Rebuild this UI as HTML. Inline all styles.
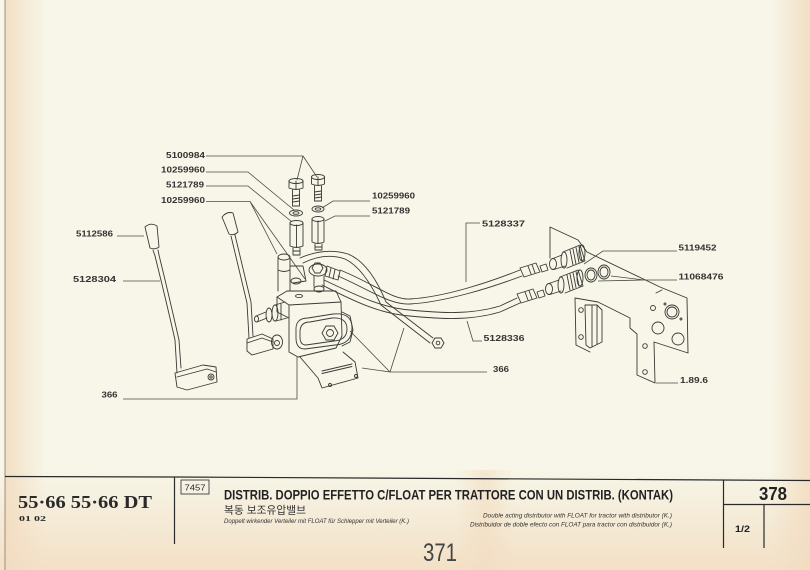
<!DOCTYPE html>
<html>
<head>
<meta charset="utf-8">
<style>
html,body{margin:0;padding:0;background:#f7f6e8;}
svg{display:block;}
</style>
</head>
<body>
<svg width="810" height="570" viewBox="0 0 810 570" xmlns="http://www.w3.org/2000/svg">
<defs>
<linearGradient id="gl" x1="0" y1="0" x2="1" y2="0">
<stop offset="0" stop-color="#f2dcc0" stop-opacity="0.9"/>
<stop offset="1" stop-color="#f2dcc0" stop-opacity="0"/>
</linearGradient>
<linearGradient id="gr" x1="0" y1="0" x2="1" y2="0">
<stop offset="0" stop-color="#f2dcc0" stop-opacity="0"/>
<stop offset="1" stop-color="#f2dcc0" stop-opacity="0.9"/>
</linearGradient>
<linearGradient id="gb" x1="0" y1="0" x2="0" y2="1">
<stop offset="0" stop-color="#f2dcc0" stop-opacity="0"/>
<stop offset="1" stop-color="#f2dcc0" stop-opacity="0.85"/>
</linearGradient>
<linearGradient id="gv" x1="0" y1="0" x2="1" y2="0">
<stop offset="0" stop-color="#f2dcc0" stop-opacity="0"/>
<stop offset="0.5" stop-color="#f2dcc0" stop-opacity="0.6"/>
<stop offset="1" stop-color="#f2dcc0" stop-opacity="0"/>
</linearGradient>
</defs>

<!-- paper -->
<rect x="0" y="0" width="810" height="570" fill="#f7f6e8"/>
<rect x="5" y="0" width="40" height="570" fill="url(#gl)"/>
<rect x="770" y="0" width="40" height="570" fill="url(#gr)"/>
<rect x="0" y="470" width="810" height="100" fill="url(#gb)"/>
<rect x="455" y="470" width="60" height="100" fill="url(#gv)"/>
<line x1="5" y1="0" x2="5" y2="570" stroke="#a08c78" stroke-width="1"/>

<!-- ============ DRAWING ============ -->
<g fill="none" stroke="#3a3a36" stroke-width="0.9" stroke-linejoin="round" stroke-linecap="round">

<!-- left lever 5128304 with knob 5112586 -->
<path d="M145,227 Q151,222 157,226 L159,247 Q155,250 150,248 Z"/>
<path d="M153,250 L155,256 M158,250 L159,255"/>
<path d="M155,256 Q166,300 175,340 L177,373"/>
<path d="M159,255 Q170,300 179,340 L181,368"/>
<path d="M175,373 L203,365 L216,367 L217,382 L187,390 L177,387 Z"/>
<path d="M177,377 L207,369 L216,372"/>
<circle cx="211" cy="377" r="3"/>
<circle cx="211" cy="377" r="1.2"/>

<!-- middle lever -->
<path d="M222,217 Q227,211 233,213 L238,232 Q234,236 229,234 Z"/>
<path d="M231,236 L247,303 L249,338"/>
<path d="M235,235 L251,302 L253,336"/>

<!-- valve body -->
<path d="M277,297 L287,291 L336,291 L341,302 L342,336 L336,348 L298,357 L289,352 L289,318 L277,312 Z"/>
<path d="M277,297 L289,305 L341,302 M289,305 L289,318"/>
<ellipse cx="299" cy="296" rx="3.5" ry="1.6"/>
<path d="M342,312 L350,316 L353,330 L350,342 L342,346"/>
<!-- cam -->
<path d="M296,331 Q295,318 308,318 L333,314 Q352,312 352,328 Q352,344 335,345 L305,349 Q296,349 296,338 Z"/>
<path d="M300,332 Q300,322 310,322 L332,318 Q347,317 347,329 Q347,340 334,341 L306,345 Q300,345 300,337 Z"/>
<polygon points="338,333 334,340 326,340 322,333 326,326 334,326"/>
<circle cx="330" cy="333" r="3.5"/>
<!-- left spool -->
<path d="M256,316 L266,312 M257,322 L267,318"/>
<ellipse cx="256.5" cy="319" rx="2" ry="3"/>
<ellipse cx="269" cy="315" rx="3" ry="7"/>
<ellipse cx="275" cy="313" rx="3" ry="8"/>
<path d="M275,305 L285,302 M276,321 L287,318 M281,304 L281,320"/>
<!-- lever clevis -->
<path d="M247,339 L262,334 L273,339 L273,349 L252,355 L247,351 Z"/>
<path d="M247,343 L262,338 L273,342"/>
<ellipse cx="277" cy="342" rx="5.5" ry="7"/>
<circle cx="277" cy="343" r="2.5"/>
<!-- bracket below valve -->
<path d="M300,357 L318,378 L322,388 L358,378 L355,362 L343,352"/>
<path d="M322,371 L352,364 M322,373.5 L352,366.5"/>
<circle cx="330" cy="385" r="1.5"/>
<circle cx="356" cy="376" r="1.5"/>
<!-- pillar -->
<path d="M278,258 L278,291 M290,258 L290,291"/>
<ellipse cx="284" cy="257" rx="6" ry="3"/>
<path d="M278,270 Q284,273 290,270"/>
<path d="M290,266 L303,266 L306,281 L293,283"/>
<ellipse cx="296" cy="281" rx="5" ry="3"/>
<!-- banjos -->
<ellipse cx="318" cy="270" rx="9" ry="6"/>
<polygon points="323,268 320,273 315,273 312,268 315,263 320,263"/>
<ellipse cx="319" cy="289" rx="5" ry="3"/>
<path d="M314,276 L314,287 M324,276 L324,287"/>
<!-- hose fittings at valve -->
<path d="M327,266 L340,271 L338,280 L325,276 Z"/>
<path d="M331,268 L329,277 M335,269.5 L333,279"/>

<!-- bolts 5100984 -->
<ellipse cx="296" cy="181" rx="7" ry="2.5"/>
<path d="M289,181 L289,188 Q296,191 303,188 L303,181"/>
<path d="M296,181 L296,189"/>
<path d="M292.5,190 L292.5,206 L299.5,206 L299.5,190"/>
<path d="M292.5,196 L299.5,195 M292.5,199 L299.5,198 M292.5,202 L299.5,201"/>
<ellipse cx="318" cy="177" rx="6.5" ry="2.5"/>
<path d="M311.5,177 L311.5,184 Q318,187 324.5,184 L324.5,177"/>
<path d="M318,177 L318,185"/>
<path d="M314.5,186 L314.5,201 L321.5,201 L321.5,186"/>
<path d="M314.5,192 L321.5,191 M314.5,195 L321.5,194 M314.5,198 L321.5,197"/>
<!-- washers -->
<ellipse cx="296" cy="213" rx="6.5" ry="3"/>
<ellipse cx="296" cy="213" rx="3" ry="1.3"/>
<ellipse cx="318" cy="209" rx="6" ry="3"/>
<ellipse cx="318" cy="209" rx="2.8" ry="1.2"/>
<!-- spacers 5121789 -->
<ellipse cx="296.5" cy="223" rx="6.5" ry="2.5"/>
<path d="M290,223 L290,246 Q296.5,249 303,246 L303,223 M296.5,225 L296.5,247"/>
<path d="M293,248 L293,255 L300,255 L300,248 M293,251 L300,251"/>
<ellipse cx="318" cy="219" rx="6" ry="2.5"/>
<path d="M312,219 L312,242 Q318,245 324,242 L324,219 M318,221 L318,243"/>
<path d="M315,244 L315,250 L322,250 L322,244 M315,247 L322,247"/>

<!-- pipe to loose nut -->
<path d="M300,258 Q325,247 348,254 Q370,263 386,302 L433,338"/>
<path d="M303,263 Q325,252 345,259 Q364,268 381,305 L430,343"/>
<polygon points="444,343 441,348 435,348 432,343 435,338 441,338"/>
<circle cx="438" cy="343" r="1.8"/>

<!-- hose 5128337 -->
<path d="M340,270 C375,284 392,300 410,299 C445,297 490,282 520,270"/>
<path d="M338,276 C372,291 390,305 410,304 C445,302 490,288 522,276"/>
<!-- hose 5128336 -->
<path d="M324,280 C350,292 380,308 410,310 C440,313 470,315 500,306 L517,298"/>
<path d="M322,285 C348,298 378,314 410,316 C440,319 470,321 500,312 L520,303"/>
<!-- hose fittings -->
<path d="M520,268 L536,263 L540,272 L524,277 Z M528,266 L531,274 M532,264.5 L535,273"/>
<path d="M540,266 L546,264 L548,270 L542,272 Z"/>
<path d="M517,294 L533,289 L537,298 L521,303 Z M525,292 L528,300 M529,290.5 L532,299"/>
<path d="M537,292 L543,290 L545,296 L539,298 Z"/>
<!-- upper coupler -->
<ellipse cx="553" cy="264" rx="3.5" ry="5.5"/>
<path d="M553,258.5 L562,255 M554,269.5 L565,266"/>
<path d="M563,252 L580,245 L585,261 L567,268"/>
<ellipse cx="564" cy="260" rx="3" ry="8"/>
<ellipse cx="582" cy="253" rx="3" ry="8"/>
<path d="M570,250 L573,265 M573,249 L576,264 M576,247.5 L579,262.5 M579,246.5 L582,261"/>
<!-- lower coupler -->
<ellipse cx="549" cy="289" rx="3.5" ry="5.5"/>
<path d="M549,283.5 L559,280 M550,294.5 L561,291"/>
<path d="M560,277 L578,270 L583,286 L565,293"/>
<ellipse cx="561" cy="285" rx="3" ry="8"/>
<ellipse cx="580" cy="278" rx="3" ry="8"/>
<path d="M567,275 L570,290 M570,274 L573,289 M573,272.5 L576,287.5 M576,271.5 L579,286"/>
<!-- rings 11068476 -->
<ellipse cx="591" cy="275" rx="6" ry="7"/>
<ellipse cx="591" cy="275" rx="4" ry="5"/>
<ellipse cx="604" cy="272" rx="6" ry="7"/>
<ellipse cx="604" cy="272" rx="4" ry="5"/>

<!-- bracket plate 1.89.6 -->
<path d="M550,258 L550,227 L578,240 L587,252 L660,287 L687,298 L688,353 L654,342 L655,383 L637,375 L637,334 L630,328 L630,318 L598,302 L575,298 L576,345 L590,352"/>
<path d="M585,305 L597,305 L602,310 L602,342 L590,348 L586,345 Z"/>
<path d="M592,306 L592,347 M597,306 L597,344"/>
<path d="M656,293 L662,290"/>
<circle cx="581" cy="310" r="2.3"/>
<circle cx="581" cy="337" r="2.3"/>
<circle cx="645" cy="346" r="2.3"/>
<circle cx="645" cy="372" r="2.3"/>
<circle cx="653" cy="308" r="2.5"/>
<circle cx="658" cy="328" r="6"/>
<circle cx="678" cy="339" r="6"/>
<circle cx="672" cy="312" r="7"/>
<circle cx="672" cy="312" r="5"/>
<circle cx="665" cy="304" r="1"/>
<circle cx="681" cy="319" r="1"/>
</g>

<!-- ============ LEADERS ============ -->
<g fill="none" stroke="#4a4a45" stroke-width="0.8">
<path d="M206,156 L303,156 L297,180 M303,156 L317,177"/>
<path d="M206,172 L248,172 L294,210"/>
<path d="M206,186 L248,186 L292,222"/>
<path d="M206,201.5 L250,201.5 L277,254 M250,201.5 L305,279"/>
<path d="M370,201 L333,201 L322,208"/>
<path d="M370,216 L335,216 L325,221"/>
<path d="M117,236 L144,236"/>
<path d="M123,281 L160,281"/>
<path d="M123,399 L297,399 L297,357"/>
<path d="M480,223 L466,223 L466,282"/>
<path d="M677,251 L603,251 L584,264"/>
<path d="M677,280 L644,280 L611,276 M644,280 L598,281"/>
<path d="M482,341 L473,341 L467,321"/>
<path d="M487,372 L390,372 L350,331 M390,372 L362,368 M390,372 L404,328"/>
<path d="M678,383 L656,383"/>
</g>

<!-- ============ LABELS ============ -->
<g font-family="'Liberation Sans', sans-serif" font-weight="bold" font-size="8.5" fill="#333">
<text x="166" y="158" textLength="39" lengthAdjust="spacingAndGlyphs">5100984</text>
<text x="161" y="172.5" textLength="44" lengthAdjust="spacingAndGlyphs">10259960</text>
<text x="166" y="187.5" textLength="38" lengthAdjust="spacingAndGlyphs">5121789</text>
<text x="161" y="203" textLength="44" lengthAdjust="spacingAndGlyphs">10259960</text>
<text x="372" y="198.5" textLength="43" lengthAdjust="spacingAndGlyphs">10259960</text>
<text x="372" y="213.5" textLength="38" lengthAdjust="spacingAndGlyphs">5121789</text>
<text x="76" y="236.5" textLength="37" lengthAdjust="spacingAndGlyphs">5112586</text>
<text x="73" y="282" textLength="43" lengthAdjust="spacingAndGlyphs">5128304</text>
<text x="101.5" y="397.5" textLength="16" lengthAdjust="spacingAndGlyphs">366</text>
<text x="482" y="226.5" textLength="43" lengthAdjust="spacingAndGlyphs">5128337</text>
<text x="678.5" y="250.5" textLength="38" lengthAdjust="spacingAndGlyphs">5119452</text>
<text x="678.5" y="279.5" textLength="45" lengthAdjust="spacingAndGlyphs">11068476</text>
<text x="483.5" y="341" textLength="41" lengthAdjust="spacingAndGlyphs">5128336</text>
<text x="493" y="372" textLength="16" lengthAdjust="spacingAndGlyphs">366</text>
<text x="680" y="383" textLength="28" lengthAdjust="spacingAndGlyphs">1.89.6</text>
</g>

<!-- ============ TITLE BLOCK ============ -->
<g fill="none" stroke="#2a2a2a" stroke-width="1.2">
<path d="M5,476.5 L175,477 L810,480.5"/>
<path d="M174.5,477 L174.5,544"/>
<path d="M723.5,480 L723.5,548"/>
<path d="M723.5,504.5 L810,504.5"/>
<path d="M764,504.5 L764,548"/>
<rect x="181" y="480" width="28" height="14" stroke-width="0.8"/>
</g>

<text x="18" y="508" font-family="'Liberation Serif', serif" font-weight="bold" font-size="17.5" fill="#2a2a2a" textLength="134" lengthAdjust="spacingAndGlyphs">55·66 55·66 DT</text>
<text x="19" y="521" font-family="'Liberation Serif', serif" font-weight="bold" font-size="7.5" fill="#2a2a2a" textLength="27" lengthAdjust="spacingAndGlyphs">01 02</text>
<text x="184.5" y="490.5" font-family="'Liberation Sans', sans-serif" font-size="8" fill="#2a2a2a" textLength="21" lengthAdjust="spacingAndGlyphs">7457</text>
<text x="224" y="499.5" font-family="'Liberation Sans', sans-serif" font-weight="bold" font-size="14" fill="#222" textLength="449" lengthAdjust="spacingAndGlyphs">DISTRIB. DOPPIO EFFETTO C/FLOAT PER TRATTORE CON UN DISTRIB. (KONTAK)</text>
<text x="224" y="513.5" font-family="'Liberation Sans', 'Noto Sans CJK KR', sans-serif" font-size="10.5" fill="#333" textLength="82" lengthAdjust="spacingAndGlyphs">복동 보조유압밸브</text>
<text x="224" y="523" font-family="'Liberation Sans', sans-serif" font-style="italic" font-size="6" fill="#333" textLength="185" lengthAdjust="spacingAndGlyphs">Doppelt wirkender Verteiler mit FLOAT für Schlepper mit Verteiler (K.)</text>
<text x="483" y="517.5" font-family="'Liberation Sans', sans-serif" font-style="italic" font-size="6" fill="#333" textLength="189" lengthAdjust="spacingAndGlyphs">Double acting distributor with FLOAT for tractor with distributor (K.)</text>
<text x="470" y="526.5" font-family="'Liberation Sans', sans-serif" font-style="italic" font-size="6" fill="#333" textLength="202" lengthAdjust="spacingAndGlyphs">Distribuidor de doble efecto con FLOAT para tractor con distribuidor (K.)</text>
<text x="759" y="500" font-family="'Liberation Sans', sans-serif" font-weight="bold" font-size="18" fill="#222" textLength="28" lengthAdjust="spacingAndGlyphs">378</text>
<text x="735" y="532" font-family="'Liberation Sans', sans-serif" font-weight="bold" font-size="9" fill="#222" textLength="15" lengthAdjust="spacingAndGlyphs">1/2</text>
<text x="423" y="561" font-family="'Liberation Sans', sans-serif" font-size="25" fill="#444" textLength="34" lengthAdjust="spacingAndGlyphs">371</text>
</svg>
</body>
</html>
